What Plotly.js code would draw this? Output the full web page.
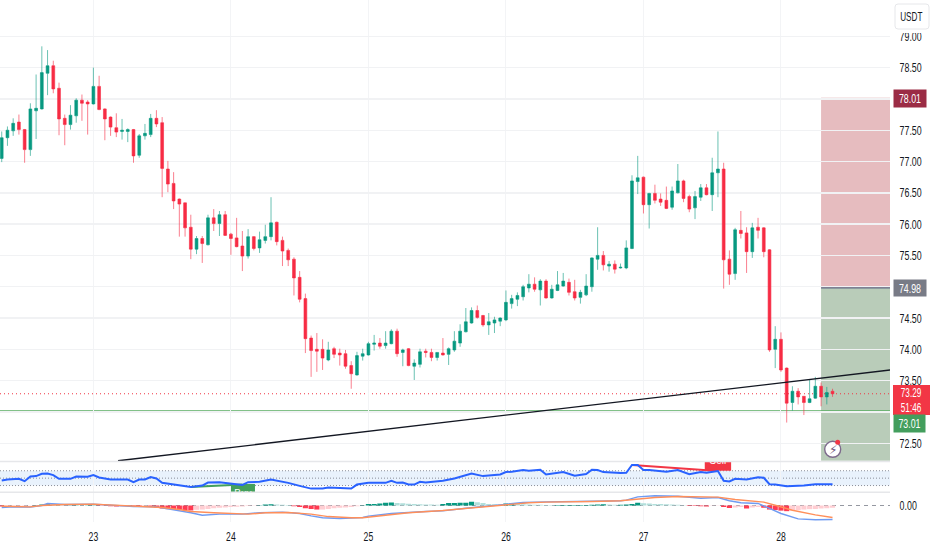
<!DOCTYPE html>
<html><head><meta charset="utf-8">
<script src="https://cdn.plot.ly/plotly-3.0.1.min.js"></script>
<style>html,body{margin:0;padding:0;background:#fff}#c{width:932px;height:550px}</style>
</head><body><div id="c"></div>
<script>
const open=[77.05,77.38,77.49,77.63,77.51,77.19,77.81,77.84,78.41,78.53,
78.17,77.69,77.59,77.73,77.98,77.95,77.92,78.20,77.84,77.71,
77.54,77.48,77.48,77.51,77.10,77.41,77.43,77.69,77.62,76.88,
76.65,76.40,76.34,75.95,75.60,75.77,75.67,76.10,76.01,76.15,
75.84,75.78,75.65,75.49,75.80,75.62,75.74,75.80,76.03,75.74,
75.58,75.44,75.15,74.81,74.18,74.00,74.00,73.83,74.01,73.94,
73.93,73.74,73.59,73.89,73.91,74.08,74.10,74.06,74.09,74.29,
73.95,74.01,73.73,73.76,73.97,73.95,73.87,73.94,73.92,73.99,
74.10,74.28,74.42,74.62,74.54,74.39,74.42,74.45,74.47,74.73,
74.80,74.84,74.98,75.04,74.95,75.09,74.82,74.94,75.01,75.07,
74.92,74.83,74.87,75.00,75.44,75.50,75.33,75.36,75.30,75.30,
75.61,76.68,76.75,76.31,76.49,76.40,76.38,76.27,76.50,76.69,
76.44,76.26,76.43,76.58,76.47,76.82,76.88,75.44,75.21,75.90,
75.86,75.56,75.95,75.94,75.59,74.00,74.16,73.70,73.15,73.33,
73.25,73.15,73.22,73.41,73.24,73.33];
const high=[77.48,77.56,77.69,77.75,77.52,77.93,78.39,78.84,78.78,78.61,
78.26,77.75,77.90,78.01,78.07,77.98,78.50,78.37,77.85,77.72,
77.77,77.68,77.53,77.52,77.44,77.60,77.76,77.82,77.71,77.01,
76.83,76.41,76.34,76.15,75.81,75.81,76.15,76.24,76.21,76.21,
75.86,76.10,75.89,75.92,75.81,75.88,75.99,76.43,76.04,75.80,
75.61,75.47,75.25,74.89,74.22,74.26,74.16,74.12,74.04,74.01,
73.99,73.81,73.96,74.01,74.12,74.23,74.18,74.29,74.32,74.33,
74.01,74.02,73.84,74.01,74.01,74.01,73.95,74.18,74.03,74.29,
74.40,74.66,74.67,74.70,74.55,74.58,74.52,74.51,74.94,74.87,
74.91,75.03,75.20,75.15,75.12,75.12,75.03,75.25,75.22,75.13,
75.11,74.95,75.20,75.47,75.95,75.57,75.41,75.42,75.37,75.74,
76.78,77.09,76.76,76.50,76.63,76.49,76.60,76.60,76.96,76.71,
76.47,76.53,76.64,76.64,77.06,77.48,76.98,75.58,75.94,76.21,
75.95,76.02,76.10,75.95,75.60,74.37,74.27,73.71,73.41,73.38,
73.25,73.51,73.56,73.47,73.40,73.37];
const low=[76.99,77.25,77.41,77.43,76.98,77.09,77.36,77.83,78.06,78.09,
77.42,77.26,77.51,77.62,77.65,77.43,77.91,77.82,77.34,77.41,
77.39,77.35,77.31,76.98,77.06,77.35,77.39,77.55,76.43,76.51,
76.24,75.80,75.80,75.44,75.52,75.38,75.66,75.89,75.81,75.81,
75.51,75.63,75.25,75.45,75.58,75.54,75.69,75.74,75.66,75.33,
75.33,74.86,74.75,73.94,73.56,73.64,73.67,73.81,73.86,73.74,
73.69,73.37,73.58,73.82,73.90,73.98,74.01,74.01,74.08,73.88,
73.73,73.73,73.51,73.71,73.87,73.81,73.82,73.90,73.75,73.96,
74.04,74.27,74.41,74.49,74.36,74.23,74.26,74.37,74.45,74.65,
74.69,74.78,74.91,74.92,74.70,74.81,74.81,74.93,75.00,74.86,
74.78,74.73,74.85,74.92,75.27,75.26,75.24,75.21,75.29,75.28,
75.60,76.48,76.17,75.93,76.33,76.29,76.24,76.23,76.49,76.35,
76.19,76.08,76.37,76.46,76.21,76.43,74.97,75.03,75.11,75.77,
75.22,75.46,75.77,75.47,73.96,73.70,73.64,72.83,73.02,73.12,
72.95,73.14,73.21,73.09,73.12,73.24];
const close=[77.38,77.50,77.61,77.51,77.19,77.84,77.85,78.42,78.53,78.16,
77.68,77.59,77.74,77.98,77.93,77.92,78.20,77.83,77.68,77.55,
77.47,77.50,77.51,77.09,77.41,77.45,77.69,77.60,76.89,76.64,
76.37,76.32,75.94,75.60,75.77,75.69,76.10,76.01,76.15,75.82,
75.77,75.64,75.49,75.80,75.61,75.75,75.80,76.02,75.72,75.57,
75.43,75.14,74.80,74.17,73.98,73.97,73.86,73.99,73.92,73.91,
73.73,73.61,73.90,73.93,74.09,74.10,74.05,74.10,74.29,73.93,
73.99,73.74,73.78,73.96,73.95,73.87,73.95,73.91,74.01,74.13,
74.29,74.44,74.62,74.51,74.39,74.44,74.47,74.50,74.75,74.81,
74.86,75.00,75.04,74.96,75.09,74.82,74.96,75.03,75.09,74.91,
74.82,74.91,75.01,75.46,75.50,75.35,75.36,75.28,75.31,75.62,
76.69,76.74,76.31,76.49,76.38,76.35,76.25,76.53,76.69,76.41,
76.24,76.44,76.58,76.47,76.82,76.88,75.43,75.20,75.91,75.85,
75.56,75.94,75.90,75.56,73.99,74.16,73.67,73.14,73.33,73.24,
73.15,73.21,73.41,73.24,73.31,73.29];
const bars=open.map((_,i)=>i);

const rsiBars=[0,1,3,4,5,6,7,8,9,10,12,13,15,16,17,19,22,23,24,25,26,27,28,30,33,35,36,38,40,42,43,45,47,49,50,52,54,
56,57,61,62,64,67,68,69,70,71,72,73,74,77,79,82,84,87,88,89,91,92,94,95,98,100,102,103,104,105,108,
109,110,111,112,113,116,118,120,122,123,125,126,127,128,130,132,133,134,135,137,140,142,145];
const rsiValues=[43.6,46.4,48.2,41.8,54.5,55.5,61.8,62.7,58.2,48.2,48.2,54.5,53.6,58.2,51.8,46.4,46.4,39.1,46.4,46.4,52.7,49.1,37.3,33.6,26.4,30,38.2,39.1,35.5,31.8,39.1,40,46.4,40.9,37.3,29.1,21.8,
21.8,24.5,21.8,32.7,37.3,37.3,42.7,37.3,38.2,32.7,32.7,40,38.2,42.7,49.1,62.7,55.5,60,66.4,67.3,71.8,70,72.7,60,66.4,56.4,60.9,72.7,71.8,66.4,63.6,
64.5,85.5,85.5,71.8,71.8,67.3,71.8,60.9,66.4,64.5,69.1,42.7,40.9,48.2,46.4,52.7,50.9,33.6,32.7,28.2,30,33.6,33.6];
const rsiLevels=[30,50,70];

const macdBars=[0,2,5,7,8,11,16,19,23,27,30,33,35,38,42,45,49,52,54,56,59,63,64,68,74,77,81,85,88,91,95,99,103,108,109,111,114,118,122,125,127,129,132,134,136,139,142,145];
const macdValues=[-.15,-.10,-.12,0,.15,.07,.10,.02,-.07,-.10,-.30,-.54,-.72,-.64,-.64,-.54,-.49,-.59,-.77,-.91,-.96,-.89,-.79,-.59,-.44,-.40,-.20,-.05,.07,.22,.27,.27,.32,.35,.40,.64,.72,.69,.54,.59,.35,.20,.15,-.22,-.59,-.99,-1.06,-1.04];
const signalBars=[0,5,7,11,16,20,24,28,31,33,37,40,43,46,50,54,57,61,63,67,71,77,83,88,92,95,99,103,108,111,114,118,125,128,133,135,138,142,145];
const signalValues=[-.05,-.10,0,.07,.10,.02,-.05,-.15,-.30,-.44,-.54,-.59,-.64,-.54,-.52,-.64,-.82,-.91,-.91,-.72,-.54,-.37,-.15,.05,.20,.25,.25,.30,.35,.47,.59,.67,.62,.44,.25,.02,-.35,-.69,-.89];
const macdHist=[-.07,-.07,-.05,-.05,-.05,-.02,.02,.07,.10,.07,
.05,.02,.02,.02,.01,.01,.01,-.01,-.02,-.05,
-.07,-.07,-.07,-.08,-.10,-.10,-.12,-.15,-.22,-.27,
-.30,-.32,-.35,-.37,-.32,-.30,-.25,-.20,-.17,-.15,
-.12,-.10,-.07,-.04,-.02,.02,.08,.10,.08,.06,
.03,-.05,-.12,-.20,-.25,-.30,-.30,-.25,-.20,-.17,
-.15,-.12,-.05,.02,.12,.12,.15,.20,.22,.18,
.16,.13,.11,.10,.08,.07,.06,.12,.18,.19,
.20,.21,.28,.25,.18,.12,.10,.07,.14,.15,
.11,.09,.07,.06,.05,.04,.03,.03,.03,.03,
.03,.03,.03,.06,.08,.09,.07,.05,.05,.07,
.12,.20,.16,.14,.12,.11,.09,.07,.05,.01,
-.03,-.04,-.05,-.07,-.02,-.01,-.12,-.18,-.15,-.12,
-.22,-.14,-.12,-.16,-.30,-.34,-.38,-.42,-.38,-.35,
-.30,-.27,-.25,-.22,-.20,-.17];

const dayBars=[16,40,64,88,112,136];
const dayLabels=['23','24','25','26','27','28'];
const priceTicks=[72.5,73,73.5,74,74.5,75,75.5,76,76.5,77,77.5,78,78.5,79];
const trendBars=[20.3,155.1], trendPrices=[72.22,73.67];
const stopPrice=78.01, entryPrice=74.98, lastPrice=73.29, supportPrice=73.01, targetPrice=72.22;
const positionStartBar=143;
const buyBars=[33,42], buyRsi=[26.4,32.7];
const sellBars=[110,125], sellRsi=[85.5,69];

const UP='#089981', DOWN='#f72c44', TXT='#131722';
const FONT='"Liberation Sans",sans-serif';
const H=550, PW=890;
const fy=px=>1-px/H, fx=px=>px/PW;
const histColor=macdHist.map((v,i)=>{
  const p=i?macdHist[i-1]:0;
  return v>=0?(v>=p?'#089981':'#b2dfdb'):(v<p?'#ff3b52':'#ffcdd2');
});

const traces=[
 {type:'candlestick',x:bars,open,high,low,close,xaxis:'x',yaxis:'y',hoverinfo:'skip',showlegend:false,
  increasing:{line:{color:'rgba(8,153,129,0.6)',width:1},fillcolor:UP},decreasing:{line:{color:'rgba(247,44,68,0.6)',width:1},fillcolor:DOWN}},
 {type:'scatter',mode:'lines',x:trendBars,y:trendPrices,xaxis:'x',yaxis:'y',line:{color:'#131722',width:1.3},hoverinfo:'skip',showlegend:false},
 {type:'scatter',mode:'lines',x:buyBars,y:buyRsi,xaxis:'x',yaxis:'y2',line:{color:'#43a05c',width:2},hoverinfo:'skip',showlegend:false},
 {type:'scatter',mode:'lines',x:sellBars,y:sellRsi,xaxis:'x',yaxis:'y2',line:{color:'#f23645',width:2},hoverinfo:'skip',showlegend:false},
 {type:'scatter',mode:'lines',x:rsiBars,y:rsiValues,xaxis:'x',yaxis:'y2',line:{color:'#2962ff',width:2},hoverinfo:'skip',showlegend:false},
 {type:'scatter',mode:'text',x:[42.1,125],y:[7,96],text:['Buy','Sell'],textposition:'middle center',textfont:{color:'#fff',size:10,family:FONT},cliponaxis:true,xaxis:'x',yaxis:'y2',hoverinfo:'skip',showlegend:false},
 {type:'bar',x:bars,y:macdHist,marker:{color:histColor,line:{width:0}},xaxis:'x',yaxis:'y3',hoverinfo:'skip',showlegend:false},
 {type:'scatter',mode:'lines',x:macdBars,y:macdValues,xaxis:'x',yaxis:'y3',line:{color:'#6f9bf2',width:1.4},hoverinfo:'skip',showlegend:false},
 {type:'scatter',mode:'lines',x:signalBars,y:signalValues,xaxis:'x',yaxis:'y3',line:{color:'#ff8f5a',width:1.4},hoverinfo:'skip',showlegend:false}
];

const yCommon={side:'right',anchor:'x',zeroline:false,showline:false,ticks:'outside',ticklen:6,tickcolor:'rgba(0,0,0,0)',
  tickfont:{family:FONT,size:13,color:TXT},automargin:false,fixedrange:true};
const xRange=[-0.3,155.03];
const roundBox=(x0,y0,x1,y1,r)=>`M ${fx(x0)} ${fy(y0+r)} Q ${fx(x0)} ${fy(y0)} ${fx(x0+r)} ${fy(y0)} L ${fx(x1-r)} ${fy(y0)} Q ${fx(x1)} ${fy(y0)} ${fx(x1)} ${fy(y0+r)} L ${fx(x1)} ${fy(y1-r)} Q ${fx(x1)} ${fy(y1)} ${fx(x1-r)} ${fy(y1)} L ${fx(x0+r)} ${fy(y1)} Q ${fx(x0)} ${fy(y1)} ${fx(x0)} ${fy(y1-r)} Z`;
const shapes=[
 {type:'rect',xref:'x',yref:'y',x0:positionStartBar,x1:xRange[1],y0:entryPrice,y1:stopPrice,fillcolor:'#e6bcbf',line:{width:0},layer:'below'},
 {type:'rect',xref:'x',yref:'y',x0:positionStartBar,x1:xRange[1],y0:targetPrice,y1:entryPrice,fillcolor:'#b9ccb9',line:{width:0},layer:'below'},
 {type:'line',xref:'x',yref:'y',x0:positionStartBar,x1:xRange[1],y0:stopPrice,y1:stopPrice,line:{color:'#d99aa0',width:1},layer:'below'},
 {type:'line',xref:'x',yref:'y',x0:positionStartBar,x1:xRange[1],y0:entryPrice,y1:entryPrice,line:{color:'#5d6b85',width:1.2},layer:'below'},
 {type:'line',xref:'x',yref:'y',x0:xRange[0],x1:xRange[1],y0:supportPrice,y1:supportPrice,line:{color:'#58ad60',width:2},layer:'below'},
 {type:'line',xref:'x',yref:'y',x0:xRange[0],x1:xRange[1],y0:lastPrice,y1:lastPrice,line:{color:'#f23645',width:1,dash:'1px 3px'},layer:'below'},
 {type:'rect',xref:'x',yref:'y2',x0:xRange[0],x1:xRange[1],y0:rsiLevels[0],y1:rsiLevels[2],fillcolor:'#e9f2fc',line:{width:0},layer:'below'},
 ...rsiLevels.map(v=>({type:'line',xref:'x',yref:'y2',x0:xRange[0],x1:xRange[1],y0:v,y1:v,line:{color:'#8a8e99',width:1,dash:'1px 2px'},layer:'below'})),
 {type:'rect',xref:'x',yref:'y2',x0:40,x1:44.2,y0:0,y1:34,fillcolor:'#43a05c',line:{width:0},layer:'below'},
 {type:'rect',xref:'x',yref:'y2',x0:122.7,x1:127.3,y0:70,y1:100,fillcolor:'#f23645',line:{width:0},layer:'below'},
 {type:'line',xref:'x',yref:'y3',x0:xRange[0],x1:xRange[1],y0:0,y1:0,line:{color:'#9598a1',width:1,dash:'4px 4px'},layer:'below'},
 {type:'line',xref:'paper',yref:'paper',x0:0,x1:1,y0:fy(461.5),y1:fy(461.5),line:{color:'#e6e7ea',width:1.5}},
 {type:'line',xref:'paper',yref:'paper',x0:0,x1:1,y0:fy(492.3),y1:fy(492.3),line:{color:'#e6e7ea',width:1.5}},
 {type:'circle',xref:'paper',yref:'paper',x0:fx(824.7),x1:fx(840.7),y0:fy(457.3),y1:fy(441.3),fillcolor:'#fff',line:{color:'#7d6a8c',width:1.4}},
 {type:'circle',xref:'paper',yref:'paper',x0:fx(835.2),x1:fx(840.2),y0:fy(444.8),y1:fy(439.8),fillcolor:'#f23645',line:{width:0}},
 {type:'rect',xref:'paper',yref:'paper',x0:fx(893),x1:fx(930),y0:fy(415),y1:fy(385),fillcolor:'#f23645',line:{width:0}},
 {type:'rect',xref:'paper',yref:'paper',x0:fx(893),x1:fx(932),y0:fy(33),y1:fy(0),fillcolor:'#fff',line:{width:0}},
 {type:'path',xref:'paper',yref:'paper',path:roundBox(895,4,929,29,3),fillcolor:'#fff',line:{color:'#e6e7ea',width:1}}
];

const tag=(py,txt,bg,w,h)=>({xref:'paper',yref:'paper',x:fx(893),xanchor:'left',y:fy(py),yanchor:'middle',text:txt,showarrow:false,
  bgcolor:bg,width:w,height:h,align:'center',font:{family:FONT,size:13,color:'#fff'},borderpad:0});
const plain=(px,py,txt,col)=>({xref:'paper',yref:'paper',x:fx(px),xanchor:'center',y:fy(py),yanchor:'middle',text:txt,showarrow:false,borderpad:0,font:{family:FONT,size:12,color:col}});
const annotations=[
 tag(98.5,'78.01','#9b2c45',32,17),
 tag(288,'74.98','#787b86',32,16),
 plain(910.5,393,'73.29','#fff'),
 plain(910.5,407.5,'51:46','#fff'),
 tag(423.4,'73.01','#439e5d',31,17),
 plain(912,17,'USDT',TXT),
 {xref:'paper',yref:'paper',x:fx(832.7),xanchor:'center',y:fy(449.5),yanchor:'middle',text:'⚡',showarrow:false,font:{family:'"DejaVu Sans"',size:12,color:'#6b4f78'}}
];

const layout={
 width:932,height:550,margin:{l:0,r:42,t:0,b:0},paper_bgcolor:'#fff',plot_bgcolor:'#fff',showlegend:false,
 boxgap:0.3,bargap:0.1,
 xaxis:{domain:[0,1],range:xRange,anchor:'y3',tickmode:'array',tickvals:dayBars,ticktext:dayLabels,
   showgrid:true,gridcolor:'#f3f4f6',gridwidth:1,zeroline:false,showline:false,ticks:'outside',ticklen:4,tickcolor:'rgba(0,0,0,0)',
   tickfont:{family:FONT,size:12,color:TXT},rangeslider:{visible:false},fixedrange:true},
 yaxis:{...yCommon,domain:[fy(461.5),1],range:[72.208,79.58],tickmode:'array',tickvals:priceTicks,ticktext:priceTicks.map(v=>v.toFixed(2)),showgrid:true,gridcolor:'#f1f2f4',gridwidth:1.4},
 yaxis2:{...yCommon,domain:[fy(492.3),fy(462)],range:[11.8,93.6],tickmode:'array',tickvals:[],showgrid:false},
 yaxis3:{...yCommon,domain:[fy(522),fy(492.5)],range:[-1.222,0.963],tickmode:'array',tickvals:[0],ticktext:['0.00'],showgrid:false},
 shapes,annotations
};
Plotly.newPlot('c',traces,layout,{displayModeBar:false,staticPlot:true}).then(gd=>{
  // the reference type is condensed: narrow the labels to its widths
  const squeeze=(sel,k)=>gd.querySelectorAll(sel).forEach(t=>{
    if(!t.textContent.trim()||t.textContent==='⚡')return;
    t.setAttribute('textLength',(t.getComputedTextLength()*k).toFixed(1));
    t.setAttribute('lengthAdjust','spacingAndGlyphs');
  });
  squeeze('.ytick text,.y3tick text',0.68);
  squeeze('.xtick text',0.72);
  squeeze('.annotation-text',0.68);
});
</script></body></html>
